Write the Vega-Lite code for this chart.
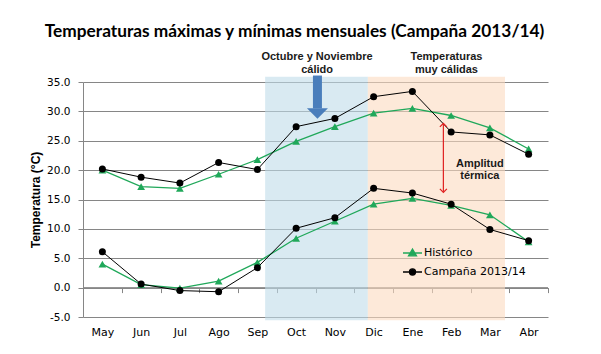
{
  "$schema": "https://vega.github.io/schema/vega-lite/v6.json",
  "width": 465,
  "height": 235,
  "autosize": {"type": "none"},
  "padding": {"left": 83, "top": 82, "right": 53, "bottom": 37},
  "background": "white",
  "config": {"view": {"stroke": null}, "font": "DejaVu Sans"},
  "title": {
    "text": "Temperaturas máximas y mínimas mensuales (Campaña 2013/14)",
    "font": "Lato",
    "fontSize": 17.3,
    "fontWeight": "bold",
    "color": "#000000",
    "anchor": "middle",
    "frame": "group",
    "dx": -21,
    "baseline": "bottom",
    "offset": -7
  },
  "datasets": {
    "temps": [
      {"n": 1, "serie": "Histórico", "tipo": "max", "t": 20.0},
      {"n": 2, "serie": "Histórico", "tipo": "max", "t": 17.2},
      {"n": 3, "serie": "Histórico", "tipo": "max", "t": 16.9},
      {"n": 4, "serie": "Histórico", "tipo": "max", "t": 19.3},
      {"n": 5, "serie": "Histórico", "tipo": "max", "t": 21.8},
      {"n": 6, "serie": "Histórico", "tipo": "max", "t": 24.9},
      {"n": 7, "serie": "Histórico", "tipo": "max", "t": 27.4},
      {"n": 8, "serie": "Histórico", "tipo": "max", "t": 29.7},
      {"n": 9, "serie": "Histórico", "tipo": "max", "t": 30.5},
      {"n": 10, "serie": "Histórico", "tipo": "max", "t": 29.3},
      {"n": 11, "serie": "Histórico", "tipo": "max", "t": 27.2},
      {"n": 12, "serie": "Histórico", "tipo": "max", "t": 23.6},
      {"n": 1, "serie": "Histórico", "tipo": "min", "t": 4.0},
      {"n": 2, "serie": "Histórico", "tipo": "min", "t": 0.5},
      {"n": 3, "serie": "Histórico", "tipo": "min", "t": -0.1},
      {"n": 4, "serie": "Histórico", "tipo": "min", "t": 1.1},
      {"n": 5, "serie": "Histórico", "tipo": "min", "t": 4.3},
      {"n": 6, "serie": "Histórico", "tipo": "min", "t": 8.4},
      {"n": 7, "serie": "Histórico", "tipo": "min", "t": 11.3},
      {"n": 8, "serie": "Histórico", "tipo": "min", "t": 14.2},
      {"n": 9, "serie": "Histórico", "tipo": "min", "t": 15.2},
      {"n": 10, "serie": "Histórico", "tipo": "min", "t": 14.0},
      {"n": 11, "serie": "Histórico", "tipo": "min", "t": 12.4},
      {"n": 12, "serie": "Histórico", "tipo": "min", "t": 7.8},
      {"n": 1, "serie": "Campaña 2013/14", "tipo": "max", "t": 20.2},
      {"n": 2, "serie": "Campaña 2013/14", "tipo": "max", "t": 18.8},
      {"n": 3, "serie": "Campaña 2013/14", "tipo": "max", "t": 17.8},
      {"n": 4, "serie": "Campaña 2013/14", "tipo": "max", "t": 21.3},
      {"n": 5, "serie": "Campaña 2013/14", "tipo": "max", "t": 20.1},
      {"n": 6, "serie": "Campaña 2013/14", "tipo": "max", "t": 27.4},
      {"n": 7, "serie": "Campaña 2013/14", "tipo": "max", "t": 28.8},
      {"n": 8, "serie": "Campaña 2013/14", "tipo": "max", "t": 32.5},
      {"n": 9, "serie": "Campaña 2013/14", "tipo": "max", "t": 33.4},
      {"n": 10, "serie": "Campaña 2013/14", "tipo": "max", "t": 26.5},
      {"n": 11, "serie": "Campaña 2013/14", "tipo": "max", "t": 26.0},
      {"n": 12, "serie": "Campaña 2013/14", "tipo": "max", "t": 22.7},
      {"n": 1, "serie": "Campaña 2013/14", "tipo": "min", "t": 6.1},
      {"n": 2, "serie": "Campaña 2013/14", "tipo": "min", "t": 0.6},
      {"n": 3, "serie": "Campaña 2013/14", "tipo": "min", "t": -0.5},
      {"n": 4, "serie": "Campaña 2013/14", "tipo": "min", "t": -0.7},
      {"n": 5, "serie": "Campaña 2013/14", "tipo": "min", "t": 3.4},
      {"n": 6, "serie": "Campaña 2013/14", "tipo": "min", "t": 10.1},
      {"n": 7, "serie": "Campaña 2013/14", "tipo": "min", "t": 11.9},
      {"n": 8, "serie": "Campaña 2013/14", "tipo": "min", "t": 16.9},
      {"n": 9, "serie": "Campaña 2013/14", "tipo": "min", "t": 16.1},
      {"n": 10, "serie": "Campaña 2013/14", "tipo": "min", "t": 14.2},
      {"n": 11, "serie": "Campaña 2013/14", "tipo": "min", "t": 9.9},
      {"n": 12, "serie": "Campaña 2013/14", "tipo": "min", "t": 8.0}
    ],
    "one": [{}]
  },
  "resolve": {"axis": {"x": "independent"}},
  "layer": [
    {
      "data": {"name": "one"},
      "mark": {"type": "rule", "color": "#868686", "strokeWidth": 1},
      "encoding": {
        "x": {"datum": 0.5, "type": "quantitative", "scale": {"domain": [0.5, 12.5], "nice": false, "zero": false},
          "axis": {"orient": "bottom", "offset": -29.4, "values": [0.5, 1.5, 2.5, 3.5, 4.5, 5.5, 6.5, 7.5, 8.5, 9.5, 10.5, 11.5, 12.5], "tickCount": 30,
            "labels": false, "domain": false, "grid": false, "ticks": true, "tickSize": 5, "tickColor": "#868686", "tickWidth": 1, "title": null}},
        "x2": {"datum": 12.5},
        "y": {"datum": 0, "type": "quantitative", "scale": {"domain": [-5, 35], "nice": false, "zero": false}}
      }
    },
    {
      "layer": [
        {
          "data": {"name": "one"},
          "mark": {"type": "rect", "color": "#c0dce9", "opacity": 0.6},
          "encoding": {
            "x": {"datum": 5.2, "type": "quantitative"},
            "x2": {"datum": 7.85},
            "y": {"datum": -5.57, "type": "quantitative"},
            "y2": {"datum": 35.9}
          }
        },
        {
          "data": {"name": "one"},
          "mark": {"type": "rect", "color": "#fcdac0", "opacity": 0.6},
          "encoding": {
            "x": {"datum": 7.85, "type": "quantitative"},
            "x2": {"datum": 11.39},
            "y": {"datum": -5.57, "type": "quantitative"},
            "y2": {"datum": 35.9}
          }
        },
        {
          "data": {"name": "temps"},
          "transform": [{"filter": "datum.serie === 'Histórico'"}],
          "mark": {"type": "line", "color": "#20a85a", "strokeWidth": 1.3},
          "encoding": {
            "x": {"field": "n", "type": "quantitative", "scale": {"domain": [0.5, 12.5], "nice": false, "zero": false},
              "axis": {"orient": "bottom", "values": [1, 2, 3, 4, 5, 6, 7, 8, 9, 10, 11, 12], "tickCount": 30,
                "labelExpr": "['May','Jun','Jul','Ago','Sep','Oct','Nov','Dic','Ene','Feb','Mar','Abr'][datum.value - 1]",
                "ticks": false, "domain": false, "grid": false, "title": null, "labelPadding": 9, "labelOverlap": false,
                "labelFont": "DejaVu Sans", "labelFontSize": 11, "labelColor": "#000000"}},
            "y": {"field": "t", "type": "quantitative", "scale": {"domain": [-5, 35], "nice": false, "zero": false},
              "axis": {"values": [-5, 0, 5, 10, 15, 20, 25, 30, 35], "tickCount": 30, "labelOverlap": false,
                "labelExpr": "replace(format(datum.value, '.1f'), '\u2212', '-')",
                "grid": true, "gridColor": "#868686", "gridWidth": 1, "gridOpacity": 1,
                "domain": true, "domainColor": "#868686", "domainWidth": 1,
                "ticks": true, "tickColor": "#868686", "tickSize": 5, "labelPadding": 8,
                "labelFont": "DejaVu Sans", "labelFontSize": 10.5, "labelColor": "#000000",
                "title": "Temperatura (°C)", "titleFont": "Liberation Sans", "titleFontSize": 12, "titleFontWeight": "bold",
                "titleColor": "#000000", "titlePadding": 4}},
            "detail": {"field": "tipo"}
          }
        },
        {
          "data": {"name": "temps"},
          "transform": [{"filter": "datum.serie === 'Histórico'"}],
          "mark": {"type": "point", "shape": "triangle-up", "filled": true, "color": "#20a85a", "size": 60, "opacity": 1},
          "encoding": {
            "x": {"field": "n", "type": "quantitative"},
            "y": {"field": "t", "type": "quantitative"}
          }
        },
        {
          "data": {"name": "temps"},
          "transform": [{"filter": "datum.serie === 'Campaña 2013/14'"}],
          "mark": {"type": "line", "color": "#000000", "strokeWidth": 1},
          "encoding": {
            "x": {"field": "n", "type": "quantitative"},
            "y": {"field": "t", "type": "quantitative"},
            "detail": {"field": "tipo"}
          }
        },
        {
          "data": {"name": "temps"},
          "transform": [{"filter": "datum.serie === 'Campaña 2013/14'"}],
          "mark": {"type": "point", "shape": "circle", "filled": true, "color": "#000000", "size": 49, "opacity": 1},
          "encoding": {
            "x": {"field": "n", "type": "quantitative"},
            "y": {"field": "t", "type": "quantitative"}
          }
        },
        {
          "data": {"name": "temps"},
          "transform": [{"filter": "false"}],
          "mark": {"type": "point", "opacity": 1, "strokeWidth": 1.3},
          "encoding": {
            "x": {"field": "n", "type": "quantitative"},
            "y": {"field": "t", "type": "quantitative"},
            "fill": {"field": "serie", "type": "nominal",
              "scale": {"domain": ["Histórico", "Campaña 2013/14"], "range": ["#20a85a", "#000000"]},
              "legend": {"orient": "none", "legendX": 319, "legendY": 160.5, "title": null, "padding": 0,
                "symbolSize": 361, "symbolStrokeWidth": 1.3, "labelOffset": 1, "rowPadding": 3,
                "labelFont": "DejaVu Sans", "labelFontSize": 11, "labelColor": "#000000"}},
            "stroke": {"field": "serie", "type": "nominal",
              "scale": {"domain": ["Histórico", "Campaña 2013/14"], "range": ["#20a85a", "#000000"]},
              "legend": {"orient": "none", "legendX": 319, "legendY": 160.5, "title": null, "padding": 0,
                "symbolSize": 361, "symbolStrokeWidth": 1.3, "labelOffset": 1, "rowPadding": 3,
                "labelFont": "DejaVu Sans", "labelFontSize": 11, "labelColor": "#000000"}},
            "shape": {"field": "serie", "type": "nominal",
              "scale": {"domain": ["Histórico", "Campaña 2013/14"],
                "range": ["M-1,0L1,0M0,-0.42L0.42,0.3L-0.42,0.3Z", "M-1,0L1,0M0.32,0A0.32,0.32,0,1,1,-0.32,0A0.32,0.32,0,1,1,0.32,0Z"]},
              "legend": {"orient": "none", "legendX": 319, "legendY": 160.5, "title": null, "padding": 0,
                "symbolSize": 361, "symbolStrokeWidth": 1.3, "labelOffset": 1, "rowPadding": 3,
                "labelFont": "DejaVu Sans", "labelFontSize": 11, "labelColor": "#000000"}}
          }
        },
        {
          "data": {"name": "one"},
          "mark": {"type": "rule", "color": "#4a7ebb", "strokeWidth": 9},
          "encoding": {
            "x": {"datum": 6.55, "type": "quantitative"},
            "y": {"datum": 36.1, "type": "quantitative"},
            "y2": {"datum": 30.5}
          }
        },
        {
          "data": {"name": "one"},
          "mark": {"type": "point", "shape": "M-1,-0.5L1,-0.5L0,0.5Z", "filled": true, "color": "#4a7ebb", "size": 441, "opacity": 1},
          "encoding": {
            "x": {"datum": 6.55, "type": "quantitative"},
            "y": {"datum": 29.65, "type": "quantitative"}
          }
        },
        {
          "data": {"name": "one"},
          "mark": {"type": "rule", "color": "#e02020", "strokeWidth": 1.2},
          "encoding": {
            "x": {"datum": 9.8, "type": "quantitative"},
            "y": {"datum": 27.9, "type": "quantitative"},
            "y2": {"datum": 16.3}
          }
        },
        {
          "data": {"name": "one"},
          "mark": {"type": "point", "shape": "M-1,0.5L0,-0.5L1,0.5", "filled": false, "color": "#e02020", "strokeWidth": 1.2, "size": 49, "opacity": 1},
          "encoding": {
            "x": {"datum": 9.8, "type": "quantitative"},
            "y": {"datum": 27.67, "type": "quantitative"}
          }
        },
        {
          "data": {"name": "one"},
          "mark": {"type": "point", "shape": "M-1,-0.5L0,0.5L1,-0.5", "filled": false, "color": "#e02020", "strokeWidth": 1.2, "size": 49, "opacity": 1},
          "encoding": {
            "x": {"datum": 9.8, "type": "quantitative"},
            "y": {"datum": 16.52, "type": "quantitative"}
          }
        },
        {
          "data": {"name": "one"},
          "mark": {"type": "text", "text": ["Octubre y Noviembre", "cálido"], "font": "Liberation Sans", "fontSize": 11, "fontWeight": "bold", "color": "#1a1a1a", "align": "center", "baseline": "middle", "lineHeight": 12.5},
          "encoding": {
            "x": {"datum": 6.54, "type": "quantitative"},
            "y": {"datum": 39.2, "type": "quantitative"}
          }
        },
        {
          "data": {"name": "one"},
          "mark": {"type": "text", "text": ["Temperaturas", "muy cálidas"], "font": "Liberation Sans", "fontSize": 11, "fontWeight": "bold", "color": "#1a1a1a", "align": "center", "baseline": "middle", "lineHeight": 12.5},
          "encoding": {
            "x": {"datum": 9.88, "type": "quantitative"},
            "y": {"datum": 39.2, "type": "quantitative"}
          }
        },
        {
          "data": {"name": "one"},
          "mark": {"type": "text", "text": ["Amplitud", "térmica"], "font": "Liberation Sans", "fontSize": 11, "fontWeight": "bold", "color": "#1a1a1a", "align": "center", "baseline": "middle", "lineHeight": 12.5},
          "encoding": {
            "x": {"datum": 10.74, "type": "quantitative"},
            "y": {"datum": 21.1, "type": "quantitative"}
          }
        }
      ]
    }
  ]
}
